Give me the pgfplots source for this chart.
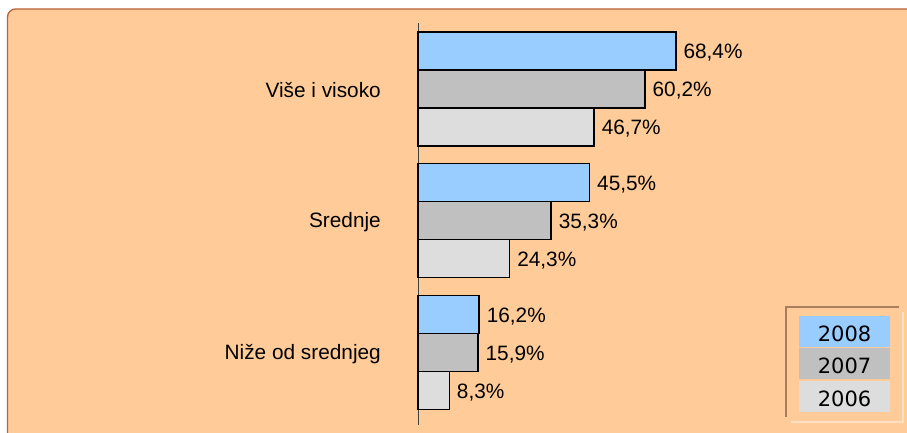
\documentclass[border=0pt]{standalone}
\usepackage{pgfplots}
\pgfplotsset{compat=1.18}
\usepackage{fontspec}
\setmainfont{Liberation Sans}
\newfontfamily\dejavu{DejaVu Sans}
\definecolor{peach}{HTML}{FFCC99}
\definecolor{frame}{RGB}{185,98,55}
\definecolor{cA}{HTML}{99CCFF}
\definecolor{cB}{HTML}{C0C0C0}
\definecolor{cC}{HTML}{DDDDDD}
\definecolor{legdark}{RGB}{170,125,92}
\definecolor{leglight}{RGB}{255,226,196}
\begin{document}
\begin{tikzpicture}
\clip (0,0) rectangle (907pt,432pt);
\fill[peach, rounded corners=8pt] (7.5pt,-30pt) rectangle (940pt,423pt);
\draw[frame, line width=1.3pt, rounded corners=8pt] (7.5pt,-30pt) -- (7.5pt,423pt) -- (940pt,423pt);
\begin{axis}[
  at={(418pt,7pt)}, anchor=south west,
  scale only axis, width=377pt, height=402pt,
  xmin=0, xmax=100, ymin=-0.55, ymax=2.5,
  xbar, bar width=0.2883,
  axis x line=none, axis y line=left,
  y axis line style={-, draw=black!75, line width=0.8pt},
  ytick={0,1,2},
  yticklabels={Niže od srednjeg, Srednje, Više i visoko},
  ytick style={draw=none}, major tick length=0pt,
  yticklabel style={font=\fontsize{20.8}{24}\selectfont, anchor=east, inner sep=0pt, xshift=-37pt, yshift=-1.5pt},
  point meta=x,
  nodes near coords={\pgfmathprintnumber[fixed,fixed zerofill,precision=1,use comma,assume math mode=true]{\pgfplotspointmeta}\%},
  every node near coord/.append style={font=\fontsize{20.8}{24}\selectfont, anchor=west, inner sep=0pt, xshift=7pt, yshift=-2pt},
  clip=false,
]
\addplot[fill=cA, draw=black, line width=1.4pt, bar shift=0.2883] coordinates {(68.4,2) (45.5,1) (16.2,0)};
\addplot[fill=cB, draw=black, line width=1.4pt, bar shift=0] coordinates {(60.2,2) (35.3,1) (15.9,0)};
\addplot[fill=cC, draw=black, line width=1.4pt, bar shift=-0.2883] coordinates {(46.7,2) (24.3,1) (8.3,0)};
\end{axis}
\draw[legdark, line width=2pt] (786pt,15pt) -- (786pt,125pt) -- (899pt,125pt);
\draw[leglight, line width=2pt] (791pt,10pt) -- (903pt,10pt) -- (903pt,120pt);
\fill[cA] (799pt,85.3pt) rectangle (890pt,116.3pt);
\fill[cB] (799pt,53pt) rectangle (890pt,84.3pt);
\fill[cC] (799pt,20pt) rectangle (890pt,50.7pt);
\node[font=\dejavu\fontsize{21}{24}\selectfont, inner sep=0pt] at (844.5pt,98.2pt) {2008};
\node[font=\dejavu\fontsize{21}{24}\selectfont, inner sep=0pt] at (844.5pt,66pt) {2007};
\node[font=\dejavu\fontsize{21}{24}\selectfont, inner sep=0pt] at (844.5pt,33pt) {2006};
\end{tikzpicture}
\end{document}
